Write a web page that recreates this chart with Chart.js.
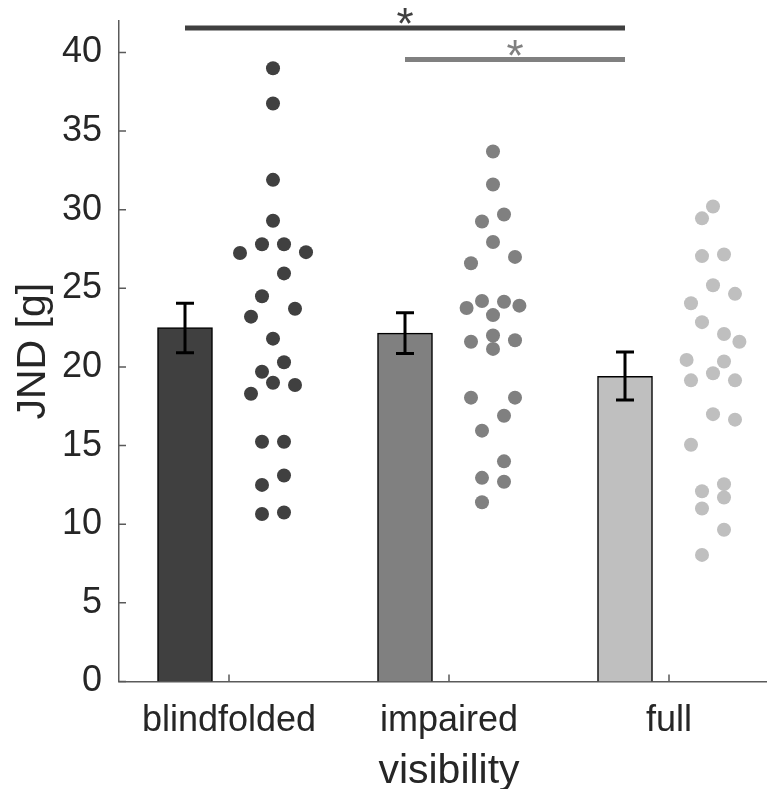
<!DOCTYPE html>
<html>
<head>
<meta charset="utf-8">
<script src="https://cdn.jsdelivr.net/npm/chart.js@4/dist/chart.umd.min.js"></script>
<style>
  html, body { margin: 0; padding: 0; background: #fff; overflow: hidden; }
  canvas { display: block; }
</style>
</head>
<body>
<canvas id="jnd" width="790" height="789"></canvas>
<script>
const categories = ['blindfolded', 'impaired', 'full'];
const colors = ['#404040', '#808080', '#bfbfbf'];

const barMeans = [22.5, 22.15, 19.4];
const errLow = [20.9, 20.85, 17.9];
const errHigh = [24.05, 23.45, 20.95];

const blindVals = [39.0, 36.75, 31.9, 29.3, 27.8, 27.8, 27.25, 27.3, 25.95, 24.5, 23.7, 23.2,
  21.8, 20.3, 19.7, 19.0, 18.85, 18.3, 15.25, 15.25, 13.1, 12.5, 10.65, 10.75];
const blindJitter = [0, 0, 0, 0, -0.05, 0.05, -0.15, 0.15, 0.05, -0.05, 0.1, -0.1,
  0, 0.05, -0.05, 0, 0.1, -0.1, -0.05, 0.05, 0.05, -0.05, -0.05, 0.05];

const impairedVals = [33.7, 31.6, 29.7, 29.25, 27.95, 27.0, 26.6, 24.2, 24.15, 23.75, 23.9, 23.3,
  21.6, 22.0, 21.7, 21.15, 18.05, 18.05, 16.9, 15.95, 14.0, 12.95, 12.7, 11.4];
const impairedJitter = [0, 0, 0.05, -0.05, 0, 0.1, -0.1, -0.05, 0.05, -0.12, 0.12, 0,
  -0.1, 0, 0.1, 0, -0.1, 0.1, 0.05, -0.05, 0.05, -0.05, 0.05, -0.05];

const fullVals = [30.2, 29.45, 27.05, 27.15, 25.2, 24.65, 24.05, 22.85, 22.1, 21.6, 20.45, 20.35,
  19.6, 19.15, 19.15, 17.0, 16.65, 15.05, 12.55, 12.1, 11.7, 11.0, 9.65, 8.05];
const fullJitter = [0, -0.05, -0.05, 0.05, 0, 0.1, -0.1, -0.05, 0.05, 0.12, -0.12, 0.05,
  0, -0.1, 0.1, 0, 0.1, -0.1, 0.05, -0.05, 0.05, -0.05, 0.05, -0.05];

const yTicks = [0, 5, 10, 15, 20, 25, 30, 35, 40];

// significance bars: from group, to group, height
const sigFrom = [0, 1];
const sigTo = [2, 2];
const sigLevel = [41.55, 39.55];
const sigColors = ['#404040', '#808080'];

const barShift = -0.2;
const dotShift = 0.2;
const font = "'Liberation Sans', Arial, Helvetica, sans-serif";
const textColor = '#262626';
const axisColor = '#5a5a5a';

function points(vals, jitter, i) {
  return vals.map((v, k) => ({ x: i + 1 + dotShift + jitter[k], y: v }));
}

const extras = {
  id: 'extras',
  afterDatasetsDraw(chart) {
    const { ctx, scales: { x, y }, chartArea } = chart;
    ctx.save();

    // error bars
    ctx.strokeStyle = '#000';
    ctx.lineWidth = 3;
    categories.forEach((c, i) => {
      const px = x.getPixelForValue(i + 1 + barShift);
      const lo = y.getPixelForValue(errLow[i]);
      const hi = y.getPixelForValue(errHigh[i]);
      ctx.beginPath();
      ctx.moveTo(px, lo); ctx.lineTo(px, hi);
      ctx.moveTo(px - 9, lo); ctx.lineTo(px + 9, lo);
      ctx.moveTo(px - 9, hi); ctx.lineTo(px + 9, hi);
      ctx.stroke();
    });

    // significance lines
    sigFrom.forEach((f, k) => {
      const x1 = x.getPixelForValue(f + 1 + barShift);
      const x2 = x.getPixelForValue(sigTo[k] + 1 + barShift);
      const py = y.getPixelForValue(sigLevel[k]);
      ctx.strokeStyle = sigColors[k];
      ctx.lineWidth = 5;
      ctx.beginPath();
      ctx.moveTo(x1, py); ctx.lineTo(x2, py);
      ctx.stroke();
      ctx.fillStyle = sigColors[k];
      ctx.font = '44px ' + font;
      ctx.textAlign = 'center';
      ctx.textBaseline = 'alphabetic';
      ctx.fillText('*', (x1 + x2) / 2, py + 11);
    });

    // inward tick marks
    ctx.strokeStyle = axisColor;
    ctx.lineWidth = 1.5;
    ctx.beginPath();
    yTicks.forEach(v => {
      const py = y.getPixelForValue(v);
      ctx.moveTo(chartArea.left, py); ctx.lineTo(chartArea.left + 7, py);
    });
    categories.forEach((c, i) => {
      const px = x.getPixelForValue(i + 1);
      ctx.moveTo(px, chartArea.bottom); ctx.lineTo(px, chartArea.bottom - 7);
    });
    ctx.stroke();
    ctx.restore();
  }
};

new Chart(document.getElementById('jnd'), {
  type: 'bar',
  data: {
    datasets: [
      {
        type: 'scatter',
        data: points(blindVals, blindJitter, 0),
        backgroundColor: colors[0],
        pointRadius: 7,
        borderWidth: 0
      },
      {
        type: 'scatter',
        data: points(impairedVals, impairedJitter, 1),
        backgroundColor: colors[1],
        pointRadius: 7,
        borderWidth: 0
      },
      {
        type: 'scatter',
        data: points(fullVals, fullJitter, 2),
        backgroundColor: colors[2],
        pointRadius: 7,
        borderWidth: 0
      },
      {
        type: 'bar',
        data: barMeans.map((m, i) => ({ x: i + 1 + barShift, y: m })),
        backgroundColor: colors,
        borderColor: '#000',
        borderWidth: 1.5,
        barThickness: 55,
        grouped: false
      }
    ]
  },
  options: {
    responsive: false,
    animation: false,
    layout: { padding: { left: 0, top: 21, right: 11, bottom: 0 } },
    plugins: { legend: { display: false }, tooltip: { enabled: false } },
    scales: {
      x: {
        type: 'linear',
        min: 0.5,
        max: 3.5,
        offset: false,
        afterBuildTicks: s => { s.ticks = categories.map((c, i) => ({ value: i + 1 })); },
        afterFit: s => { s.height = 107.5; s.paddingLeft = 0; s.paddingRight = 0; },
        grid: { display: false, drawTicks: false },
        border: { display: true, color: axisColor, width: 1.5 },
        ticks: {
          padding: 18,
          color: textColor,
          font: { family: font, size: 36 },
          maxRotation: 0,
          callback: v => categories[Math.round(v) - 1] || ''
        },
        title: {
          display: true,
          text: 'visibility',
          color: textColor,
          font: { family: font, size: 41, lineHeight: 0.85 },
          padding: 0
        }
      },
      y: {
        min: 0,
        max: 42,
        afterBuildTicks: s => { s.ticks = yTicks.map(v => ({ value: v })); },
        afterFit: s => { s.width = 119; s.paddingTop = 0; s.paddingBottom = 0; },
        grid: { display: false, drawTicks: false },
        border: { display: true, color: axisColor, width: 1.5 },
        ticks: {
          padding: 17,
          color: textColor,
          font: { family: font, size: 36 }
        },
        title: {
          display: true,
          text: 'JND [g]',
          color: textColor,
          font: { family: font, size: 41, lineHeight: 1.1 },
          padding: { top: 11, bottom: 0 }
        }
      }
    }
  },
  plugins: [extras]
});
</script>
</body>
</html>
